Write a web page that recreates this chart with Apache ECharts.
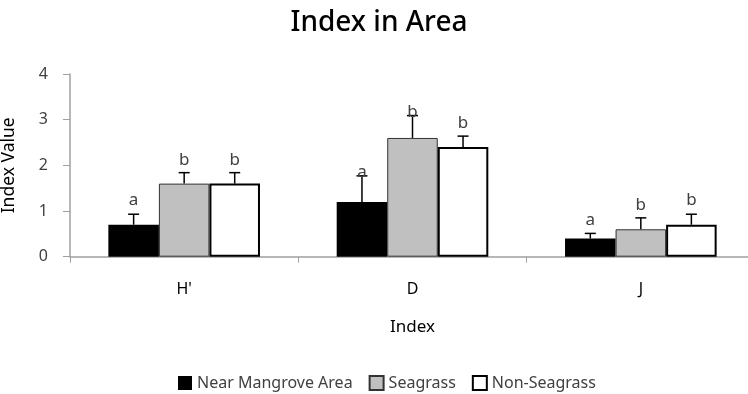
<!DOCTYPE html>
<html>
<head>
<meta charset="utf-8">
<script src="https://cdn.jsdelivr.net/npm/echarts@6/dist/echarts.min.js"></script>
<style>
  html, body { margin: 0; padding: 0; background: #fff; overflow: hidden; }
  body { width: 748px; height: 394px; }
  /* plot area runs slightly past the right edge of the window */
  #chart { width: 755px; height: 394px; }
</style>
</head>
<body>
<div id="chart"></div>
<script>
// Diversity indices per area type
const categories = ["H'", 'D', 'J'];
const seriesNames = ['Near Mangrove Area', 'Seagrass', 'Non-Seagrass'];

const nearMangrove = [0.7, 1.2, 0.4];
const seagrass = [1.6, 2.6, 0.6];
const nonSeagrass = [1.6, 2.4, 0.7];

// upper end of each error bar
const nearMangroveUpper = [0.93, 1.77, 0.51];
const seagrassUpper = [1.84, 3.09, 0.85];
const nonSeagrassUpper = [1.84, 2.64, 0.93];

// significance letters and the height they sit at
const nearMangroveLetters = ['a', 'a', 'a'];
const seagrassLetters = ['b', 'b', 'b'];
const nonSeagrassLetters = ['b', 'b', 'b'];
const nearMangroveLetterY = [1.23, 1.86, 0.80];
const seagrassLetterY = [2.12, 3.17, 1.12];
const nonSeagrassLetterY = [2.12, 2.93, 1.23];

const yTicks = { min: 0, max: 4, interval: 1 };

const FONT = '"Noto Sans", "Open Sans", sans-serif';
const CAT_GAP = 0.336;
const fills = ['#000000', '#c0c0c0', '#ffffff'];
const borders = [
  { color: '#000000', width: 0 },
  { color: '#333333', width: 1 },
  { color: '#000000', width: 2 }
];

const values = [nearMangrove, seagrass, nonSeagrass];
const uppers = [nearMangroveUpper, seagrassUpper, nonSeagrassUpper];
const letters = [nearMangroveLetters, seagrassLetters, nonSeagrassLetters];
const letterY = [nearMangroveLetterY, seagrassLetterY, nonSeagrassLetterY];

function barOffset(api, k) {
  const band = api.size([1, 0])[0];
  const bw = band * (1 - CAT_GAP) / 3;
  return (k - 1) * bw;
}

const barSeries = seriesNames.map((name, k) => ({
  name: name,
  type: 'bar',
  data: values[k],
  barGap: '0%',
  barCategoryGap: (CAT_GAP * 100) + '%',
  itemStyle: {
    color: fills[k],
    borderColor: borders[k].color,
    borderWidth: borders[k].width
  },
  emphasis: { disabled: true },
  z: 2
}));

const errorSeries = seriesNames.map((name, k) => ({
  type: 'custom',
  silent: true,
  z: 3,
  data: values[k].map((v, i) => [i, v, uppers[k][i]]),
  renderItem: function (params, api) {
    const i = api.value(0);
    const dx = barOffset(api, k);
    const base = api.coord([i, api.value(1)]);
    const top = api.coord([i, api.value(2)]);
    const x = base[0] + dx;
    const cap = 5.5;
    const style = { stroke: '#000', lineWidth: 1.5, fill: null };
    return {
      type: 'group',
      children: [
        { type: 'line', shape: { x1: x, y1: base[1], x2: x, y2: top[1] }, style: style },
        { type: 'line', shape: { x1: x - cap, y1: top[1], x2: x + cap, y2: top[1] }, style: style }
      ]
    };
  }
}));

const letterSeries = seriesNames.map((name, k) => ({
  type: 'custom',
  silent: true,
  z: 4,
  data: letterY[k].map((y, i) => [i, y]),
  renderItem: function (params, api) {
    const i = api.value(0);
    const dx = barOffset(api, k);
    const p = api.coord([i, api.value(1)]);
    return {
      type: 'text',
      x: p[0] + dx,
      y: p[1],
      style: {
        text: letters[k][params.dataIndex],
        fontFamily: FONT,
        fontSize: 17,
        fill: '#404040',
        align: 'center',
        verticalAlign: 'middle'
      }
    };
  }
}));

const chart = echarts.init(document.getElementById('chart'), null, { renderer: 'canvas' });
chart.setOption({
  animation: false,
  backgroundColor: '#ffffff',
  title: {
    text: 'Index in Area',
    left: 374,
    textAlign: 'center',
    top: 4,
    textStyle: { fontFamily: FONT, fontSize: 28, fontWeight: 500, color: '#000' }
  },
  legend: {
    data: seriesNames,
    top: 370,
    left: 173,
    orient: 'horizontal',
    icon: 'rect',
    itemWidth: 14,
    itemHeight: 14,
    itemGap: 16,
    textStyle: { fontFamily: FONT, fontSize: 16, color: '#404040' },
    selectedMode: false
  },
  grid: {
    left: 70, right: 0, top: 74, bottom: 137.3,
    containLabel: false,
    outerBoundsMode: 'none'
  },
  xAxis: {
    type: 'category',
    data: categories,
    name: 'Index',
    nameLocation: 'middle',
    nameGap: 62,
    nameTextStyle: { fontFamily: FONT, fontSize: 17, color: '#000' },
    axisLine: { show: true, lineStyle: { color: '#a0a0a0', width: 1.5 } },
    axisTick: { show: true, length: 6, alignWithLabel: false, lineStyle: { color: '#a0a0a0' } },
    axisLabel: { fontFamily: FONT, fontSize: 16, color: '#000', margin: 25 },
    splitLine: { show: false }
  },
  yAxis: {
    type: 'value',
    min: yTicks.min,
    max: yTicks.max,
    interval: yTicks.interval,
    name: 'Index Value',
    nameLocation: 'middle',
    nameRotate: 90,
    nameGap: 52,
    nameTextStyle: { fontFamily: FONT, fontSize: 17.5, color: '#000' },
    axisLine: { show: true, lineStyle: { color: '#a0a0a0', width: 1.5 } },
    axisTick: { show: true, length: 7, lineStyle: { color: '#a0a0a0' } },
    axisLabel: { fontFamily: FONT, fontSize: 16, color: '#404040', margin: 22 },
    splitLine: { show: false }
  },
  series: [...barSeries, ...errorSeries, ...letterSeries]
});
</script>
</body>
</html>
